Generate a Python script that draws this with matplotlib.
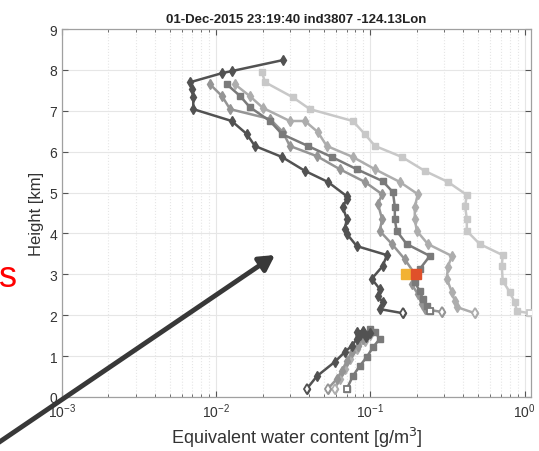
import numpy as np
import matplotlib

matplotlib.use("Agg")
import matplotlib.pyplot as plt
from matplotlib.ticker import LogLocator, NullFormatter, FixedLocator

plt.rcParams['font.family'] = ['Liberation Sans', 'DejaVu Sans']

# ---------- profiles: height [km] and equivalent water content [g/m^3] ----------
# upper part (2-8.3 km)
hA = [8.24, 7.97, 7.92, 7.70, 7.53, 7.33, 7.04, 6.75, 6.43, 6.14, 5.87, 5.53, 5.26, 4.91,
      4.84, 4.65, 4.35, 4.11, 3.99, 3.69, 3.47, 3.20, 2.89, 2.64, 2.47, 2.32, 2.15, 2.05]
xA = [0.0271, 0.0126, 0.0109, 0.0068, 0.0070, 0.0071, 0.0071, 0.0126, 0.0158, 0.0178, 0.0267,
      0.0376, 0.0530, 0.0703, 0.0703, 0.0662, 0.0703, 0.0682, 0.0703, 0.0816, 0.128, 0.120,
      0.102, 0.115, 0.112, 0.120, 0.115, 0.162]

hB = [7.95, 7.70, 7.33, 7.04, 6.75, 6.43, 6.14, 5.87, 5.53, 5.26, 4.94, 4.67, 4.35, 4.06,
      3.74, 3.47, 3.20, 2.84, 2.57, 2.32, 2.10, 2.05]
xB = [0.0198, 0.0207, 0.0314, 0.0405, 0.0769, 0.092, 0.107, 0.160, 0.225, 0.318, 0.422,
      0.411, 0.422, 0.422, 0.512, 0.721, 0.711, 0.721, 0.80, 0.863, 0.89, 1.08]

hC = [7.65, 7.36, 7.04, 6.80, 6.48, 6.14, 5.89, 5.57, 5.26, 4.96, 4.72, 4.35, 4.06, 3.74,
      3.37, 3.01, 2.76, 2.52, 2.27, 2.15, 2.08]
xC = [0.0091, 0.0109, 0.0123, 0.0223, 0.0271, 0.0300, 0.045, 0.0634, 0.092, 0.119, 0.112,
      0.119, 0.115, 0.138, 0.167, 0.194, 0.185, 0.203, 0.215, 0.225, 0.290]

hD = [7.65, 7.36, 7.09, 6.75, 6.43, 6.14, 5.87, 5.57, 5.28, 5.01, 4.65, 4.35, 4.06, 3.74,
      3.45, 3.13, 2.81, 2.59, 2.40, 2.22, 2.10]
xD = [0.0117, 0.0143, 0.0165, 0.0223, 0.0267, 0.0393, 0.0562, 0.0816, 0.120, 0.140, 0.144,
      0.144, 0.148, 0.172, 0.243, 0.209, 0.194, 0.209, 0.219, 0.232, 0.243]

hE = [7.65, 7.36, 7.07, 6.75, 6.75, 6.48, 6.14, 5.87, 5.57, 5.26, 4.96, 4.65, 4.35, 4.06,
      3.74, 3.45, 3.18, 2.89, 2.57, 2.35, 2.20, 2.05]
xE = [0.0132, 0.0165, 0.0201, 0.0300, 0.0376, 0.0456, 0.0521, 0.0769, 0.107, 0.155, 0.203,
      0.194, 0.194, 0.200, 0.236, 0.337, 0.318, 0.313, 0.337, 0.352, 0.363, 0.475]

# lower part (0-1.7 km)
hA_low = [0.20, 0.51, 0.86, 1.10, 1.25, 1.42, 1.59, 1.61, 1.56, 1.47, 1.52]
xA_low = [0.0387, 0.045, 0.0588, 0.0682, 0.0757, 0.0816, 0.0816, 0.0893, 0.099, 0.0934, 0.0853]
hC_low = [0.20, 0.44, 0.64, 0.88, 1.10, 1.25, 1.42, 1.54]
xC_low = [0.053, 0.0605, 0.0653, 0.0703, 0.0757, 0.0828, 0.0893, 0.0962]
hD_low = [0.20, 0.51, 0.76, 0.98, 1.22, 1.42, 1.59, 1.66]
xD_low = [0.0703, 0.0769, 0.0853, 0.0948, 0.104, 0.115, 0.107, 0.099]
hE_low = [0.20, 0.44, 0.68, 0.93, 1.17, 1.37, 1.52]
xE_low = [0.0588, 0.0634, 0.0682, 0.0735, 0.0816, 0.092, 0.099]

# highlighted points near 3 km
h_mark = [3.0, 3.0]
x_mark = [0.169, 0.197]
c_mark = ["#f2b233", "#e0502a"]

series = [
    (xB, hB, None, None, "#c8c8c8", "s"),
    (xE, hE, xE_low, hE_low, "#adadad", "d"),
    (xC, hC, xC_low, hC_low, "#959595", "d"),
    (xD, hD, xD_low, hD_low, "#7a7a7a", "s"),
    (xA, hA, xA_low, hA_low, "#525252", "d"),
]

fig = plt.figure(figsize=(5.39, 4.52), dpi=100)
ax = fig.add_axes([62 / 539, 54 / 452, 469 / 539, 368 / 452])

for x, h, xl, hl, col, mk in series:
    ms = 5.5 if mk == "d" else 4.5
    ax.plot(x, h, color=col, lw=1.8, marker=mk, ms=ms, mfc=col, mec=col, zorder=3)
    ax.plot(x[-1], h[-1], color=col, marker=mk, ms=ms, mfc="white", mec=col, mew=1.3, zorder=4)
    if xl is not None:
        ax.plot(xl, hl, color=col, lw=1.8, marker=mk, ms=ms, mfc=col, mec=col, zorder=3)
        ax.plot(xl[0], hl[0], color=col, marker=mk, ms=ms, mfc="white", mec=col, mew=1.3, zorder=4)

for x, h, c in zip(x_mark, h_mark, c_mark):
    ax.plot(x, h, marker="s", ms=7, color=c, mec=c, zorder=5)

ax.set_xscale("log")
ax.set_xlim(1e-3, 1.1)
ax.set_ylim(0, 9)
ax.yaxis.set_major_locator(FixedLocator(range(10)))
ax.xaxis.set_major_locator(LogLocator(base=10))
ax.xaxis.set_minor_locator(LogLocator(base=10, subs=np.arange(2, 10)))
ax.xaxis.set_minor_formatter(NullFormatter())

ax.grid(which="major", color="#e6e6e6", lw=0.8)
ax.grid(which="minor", axis="x", color="#e6e6e6", lw=0.8, ls=":")
ax.set_axisbelow(True)

ax.tick_params(which="both", direction="in", top=True, right=True, colors="#555555",
               labelcolor="#333333", labelsize=10)
ax.tick_params(which="major", length=4)
ax.tick_params(which="minor", length=2.5)
for s in ax.spines.values():
    s.set_color("#a0a0a0")
    s.set_linewidth(0.9)

ax.set_xlabel("Equivalent water content [g/m$^3$]", fontsize=13, color="#333333", labelpad=3)
ax.set_ylabel("Height [km]", fontsize=12, color="#333333", labelpad=4)
ax.set_title("01-Dec-2015 23:19:40 ind3807 -124.13Lon", fontsize=9.5, fontweight="bold",
             color="#222222", pad=5)

# slide overlay: partial red word and arrow
fig.text(8 / 539, 1 - 278 / 452, "s", color="red", fontsize=26, ha="center", va="center",
         family=["Liberation Sans", "DejaVu Sans"])
ax.annotate("", xy=(275, 452 - 256), xycoords="figure pixels",
            xytext=(-5, 452 - 446), textcoords="figure pixels",
            arrowprops=dict(arrowstyle="-|>,head_length=0.9,head_width=0.5", lw=3.5,
                            color="#383838", shrinkA=0, shrinkB=0),
            annotation_clip=False, zorder=10)

fig.savefig("out.png", dpi=100)
